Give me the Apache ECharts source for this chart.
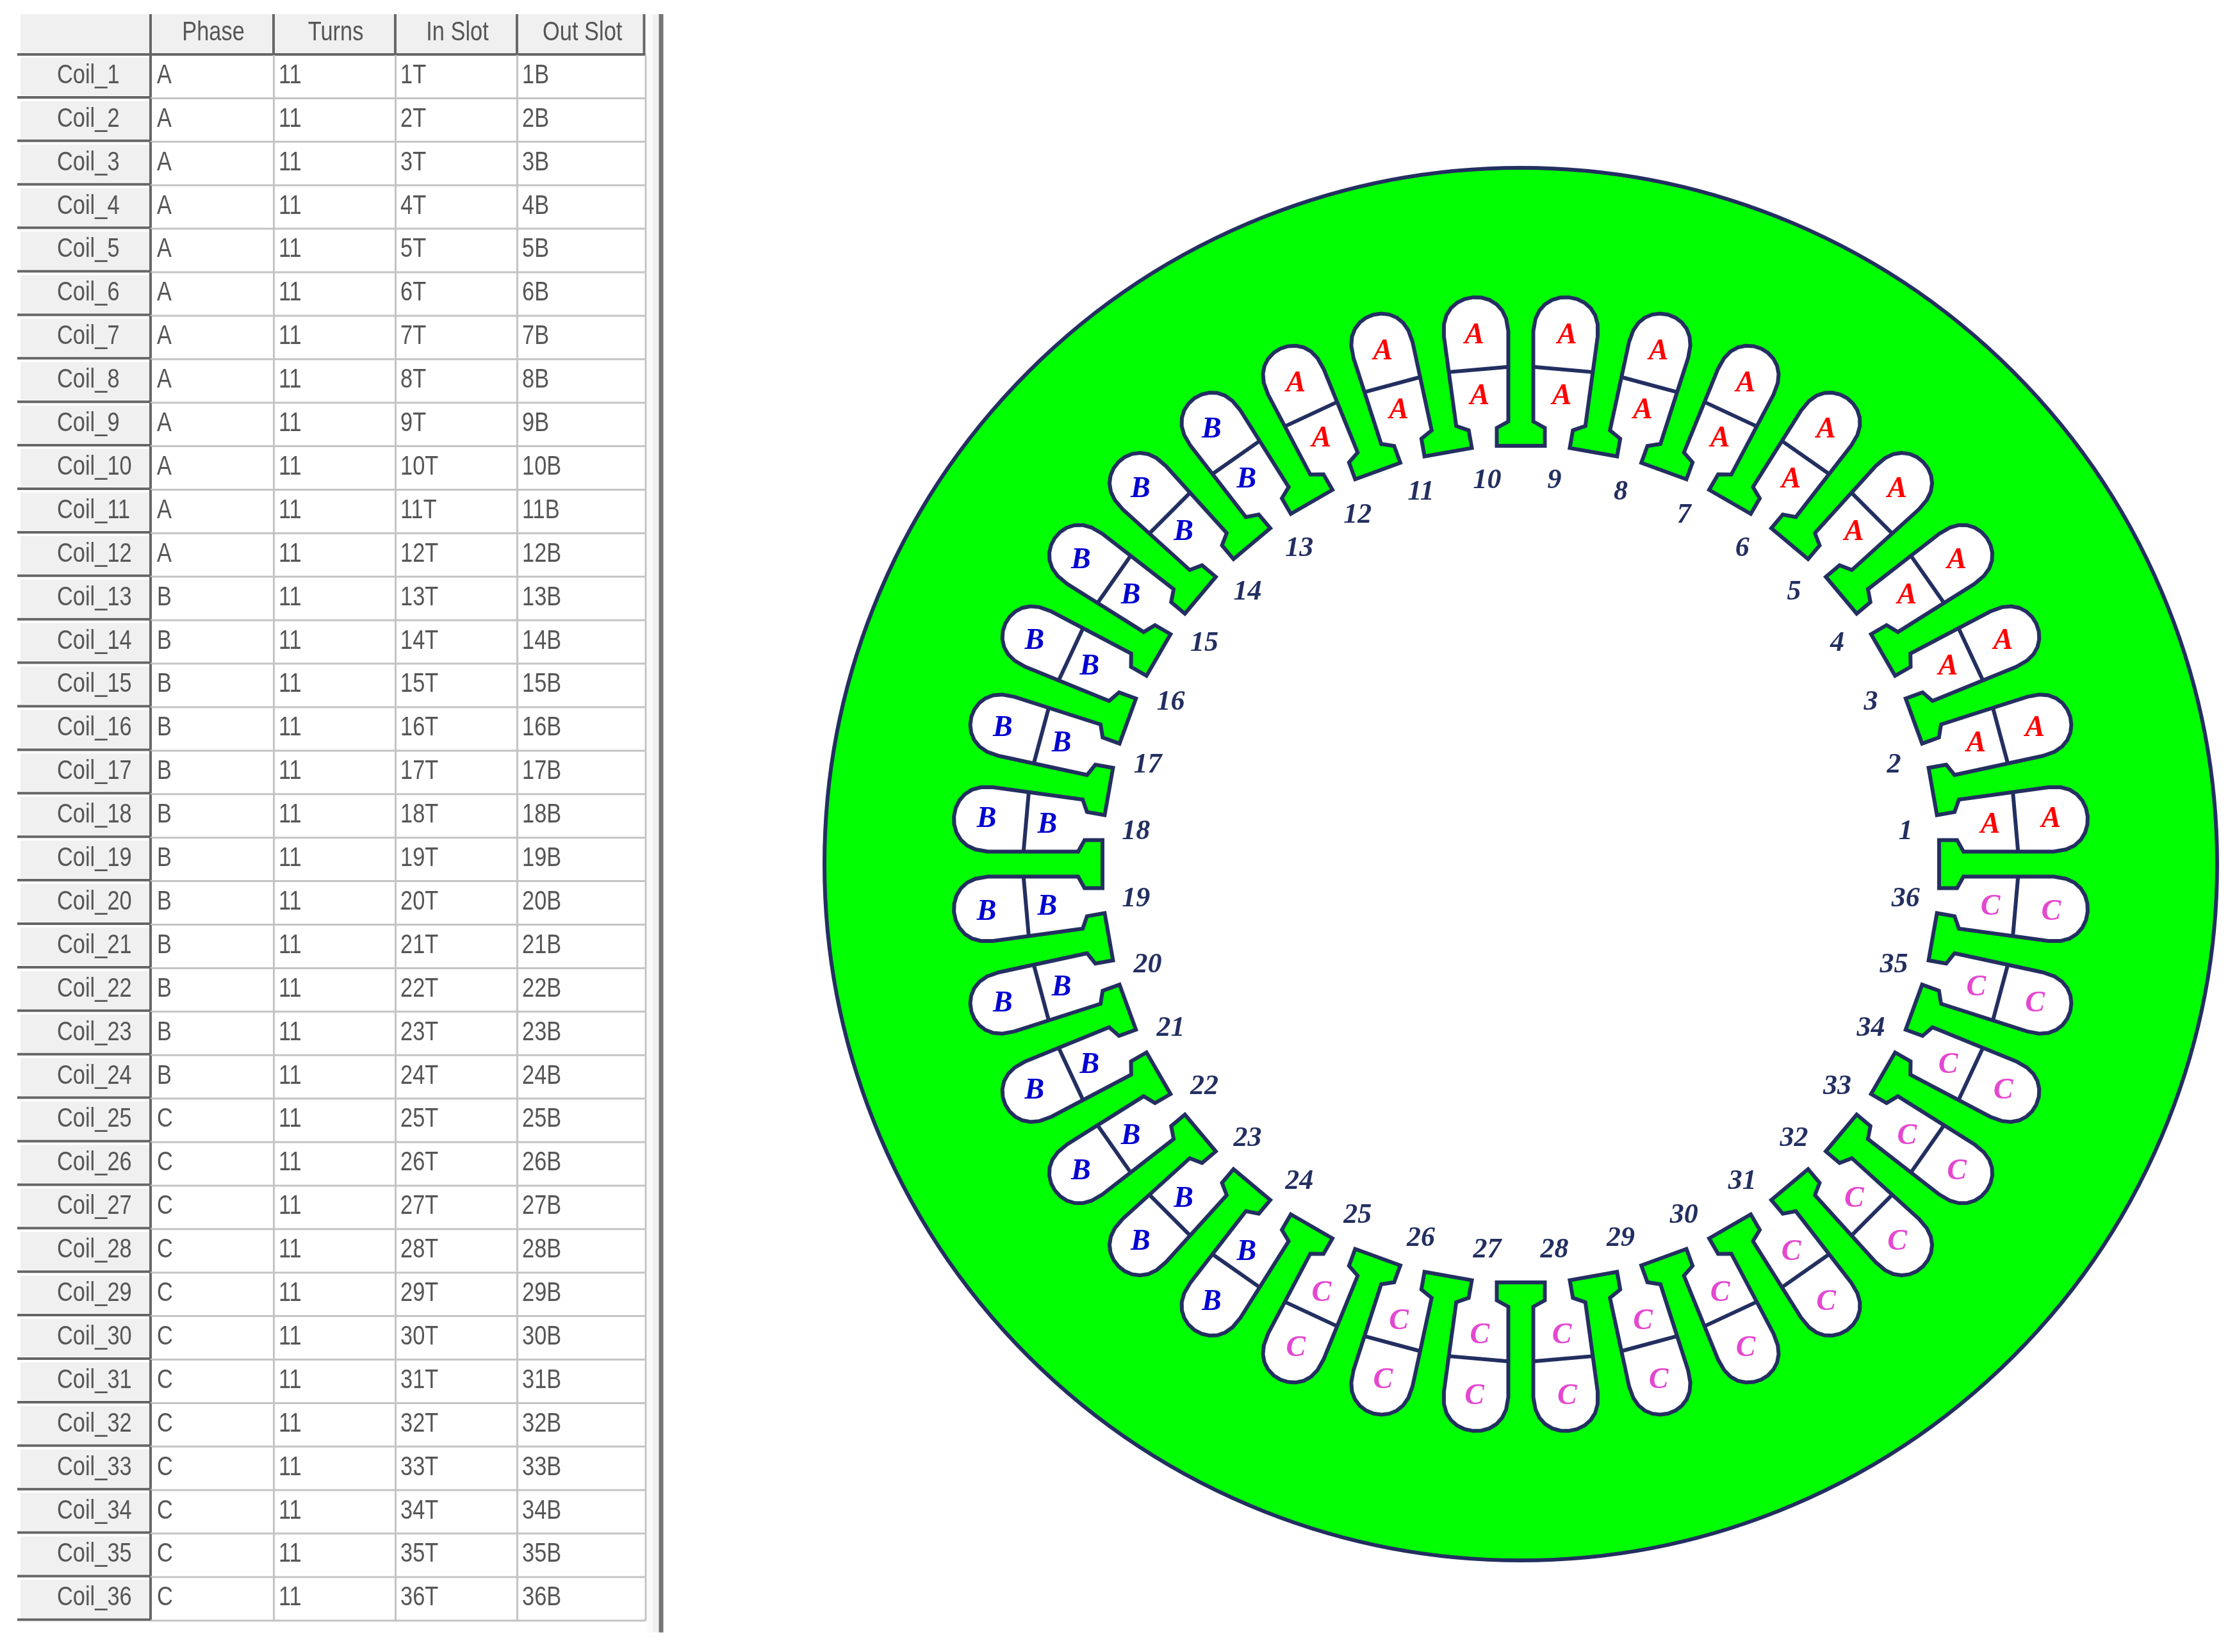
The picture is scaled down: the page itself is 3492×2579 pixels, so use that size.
<!DOCTYPE html>
<html>
<head>
<meta charset="utf-8">
<title>Coil table and stator slots</title>
<style>
  html, body { margin: 0; padding: 0; background: #fff; }
  #main { width: 3492px; height: 2579px; }
</style>
<script src="https://cdn.jsdelivr.net/npm/echarts@6/dist/echarts.min.js"></script>
</head>
<body>
<div id="main"></div>
<script>
// table contents
var columnNames = ['Phase', 'Turns', 'In Slot', 'Out Slot'];
var coilNames = ['Coil_1','Coil_2','Coil_3','Coil_4','Coil_5','Coil_6','Coil_7','Coil_8','Coil_9','Coil_10','Coil_11','Coil_12',
  'Coil_13','Coil_14','Coil_15','Coil_16','Coil_17','Coil_18','Coil_19','Coil_20','Coil_21','Coil_22','Coil_23','Coil_24',
  'Coil_25','Coil_26','Coil_27','Coil_28','Coil_29','Coil_30','Coil_31','Coil_32','Coil_33','Coil_34','Coil_35','Coil_36'];
var phases = ['A','A','A','A','A','A','A','A','A','A','A','A',
  'B','B','B','B','B','B','B','B','B','B','B','B',
  'C','C','C','C','C','C','C','C','C','C','C','C'];
var turns = [11,11,11,11,11,11,11,11,11,11,11,11,11,11,11,11,11,11,11,11,11,11,11,11,11,11,11,11,11,11,11,11,11,11,11,11];
var inSlots = ['1T','2T','3T','4T','5T','6T','7T','8T','9T','10T','11T','12T','13T','14T','15T','16T','17T','18T',
  '19T','20T','21T','22T','23T','24T','25T','26T','27T','28T','29T','30T','31T','32T','33T','34T','35T','36T'];
var outSlots = ['1B','2B','3B','4B','5B','6B','7B','8B','9B','10B','11B','12B','13B','14B','15B','16B','17B','18B',
  '19B','20B','21B','22B','23B','24B','25B','26B','27B','28B','29B','30B','31B','32B','33B','34B','35B','36B'];

// slot centre angles, degrees counter clockwise from the right
var slotAngles = [5,15,25,35,45,55,65,75,85,95,105,115,125,135,145,155,165,175,
  185,195,205,215,225,235,245,255,265,275,285,295,305,315,325,335,345,355];
var slotNumbers = [1,2,3,4,5,6,7,8,9,10,11,12,13,14,15,16,17,18,19,20,21,22,23,24,25,26,27,28,29,30,31,32,33,34,35,36];

// look
var phaseColors = { A: '#ff0000', B: '#0000d0', C: '#e448d0' };
var letterShiftX = { A: 0, B: -6, C: 0 };
var GREEN = '#00ff00';
var NAVY = '#232f60';
var BTN = '#f0f0f0';
var DARK = '#666666';
var LINE = '#c4c4c4';
var TXT = '#565656';
var OUTLINE = 6;
var COL_EDGES = [0, 205, 397, 587, 777, 977.5];   // table column edges on the hidden x axis

var R_OUT = 1087, R_TIP = 653, R_LIP = 681, R_NECK = 691, R_SHOULDER = 832, R_END = 888, R_DIVIDE = 775;
var TIP_HALF = 37.5, TOOTH_HALF = 19.5, TAPER = 0.038;
var R_LETTER_IN = 736, R_LETTER_OUT = 831, R_NUMBER = 603;

function cellText(row, col) {
  if (row === 0) return col === 0 ? '' : columnNames[col - 1];
  var i = row - 1;
  return [coilNames[i], phases[i], String(turns[i]), inSlots[i], outSlots[i]][col];
}

var rowNames = [''].concat(coilNames);
var cells = [];
rowNames.forEach(function (name, r) {
  for (var c = 0; c < 5; c++) cells.push([COL_EDGES[c], r, c]);
});

function rect(x, y, w, h, fill) {
  return { type: 'rect', shape: { x: x, y: y, width: w, height: h }, style: { fill: fill } };
}

function squeezed(x, y, s, align) {
  return {
    type: 'text', x: x, y: y, scaleX: 0.8, z2: 5,
    style: { text: s, font: '43px "Liberation Sans"', fill: TXT, align: align, textAlign: align,
      verticalAlign: 'middle', textVerticalAlign: 'middle' }
  };
}

function renderCell(params, api) {
  var row = api.value(1), col = api.value(2);
  var p0 = api.coord([COL_EDGES[col], row]);
  var p1 = api.coord([COL_EDGES[col + 1], row]);
  var h = api.size([0, 1])[1];
  var x0 = p0[0], x1 = p1[0], top = p0[1] - h / 2, bot = top + h;
  var s = cellText(row, col), kids = [];
  if (row === 0) {
    kids.push(rect(x0 + 2, top + 4, x1 - x0 - 3, h - 6, BTN));
    kids.push(rect(x0 - (col === 0 ? 3 : 0), bot - 3, x1 - x0 + (col === 0 ? 3 : 0), 4, DARK));
    kids.push(rect(x1 - (col === 4 ? 4 : 2), top + 4, 4, h - 4, DARK));
    if (s) kids.push(squeezed((x0 + x1) / 2 + 2, top + h / 2 - 1, s, 'center'));
  } else if (col === 0) {
    kids.push(rect(x0 + 2, top + 4, x1 - x0 - 3, h - 9, BTN));
    kids.push(rect(x0 - 3, bot - 4, x1 - x0 + 4, 4, DARK));
    kids.push(rect(x1 - 2, top, 4, h, DARK));
    kids.push(squeezed(x0 + 59, top + h / 2 - 2, s, 'left'));
  } else {
    kids.push(rect(x0, bot - 2, x1 - x0, 3, LINE));
    kids.push(rect(x1 - 1, top, 3, h, LINE));
    kids.push(squeezed(x0 + (col === 1 ? 10 : 8), top + h / 2 - 2, s, 'left'));
  }
  return { type: 'group', children: kids };
}

// scroll bar strip to the right of the table
function renderStrip(params, api) {
  var t = api.coord([COL_EDGES[5], 0]);
  var b = api.coord([COL_EDGES[5], rowNames.length - 1]);
  var h = api.size([0, 1])[1];
  var y0 = t[1] - h / 2 + 4, y1 = b[1] + h / 2 + 18;
  return { type: 'group', children: [
    rect(t[0] + 3, y0, 8, y1 - y0, '#fafafa'),
    rect(t[0] + 11, y0, 10, y1 - y0, BTN),
    rect(t[0] + 21, y0, 7, y1 - y0, '#747474')
  ] };
}

function deg(a) { return a * Math.PI / 180; }

// half width of the tooth at radius x; teeth on the axes are parallel sided
function toothHalf(x, toothAngle) {
  var taper = (Math.round(toothAngle) % 90 === 0) ? 0 : TAPER;
  return TOOTH_HALF + taper * (x - R_NECK);
}

// tooth frame point to slot frame, d = tooth angle minus slot angle
function inSlotFrame(x, y, d) {
  var c = Math.cos(deg(d)), s = Math.sin(deg(d));
  return [x * c - y * s, x * s + y * c];
}

// point of one slot, [u along axis, v across], as [radius, angle]
function toPolar(p, slotAngle) {
  return [Math.hypot(p[0], p[1]), slotAngle + Math.atan2(p[1], p[0]) * 180 / Math.PI];
}

function slotOutline(a) {
  var lo = a - 5, hi = a + 5, pts = [];
  function low(x, y) { return inSlotFrame(x, y, -5); }
  function up(x, y) { return inSlotFrame(x, y, 5); }
  pts.push(low(R_TIP, TIP_HALF), low(R_LIP, TIP_HALF), low(R_NECK, toothHalf(R_NECK, lo)));
  var P = low(R_SHOULDER, toothHalf(R_SHOULDER, lo));
  var Q = up(R_SHOULDER, -toothHalf(R_SHOULDER, hi));
  pts.push(P);
  var u0 = (P[0] + Q[0]) / 2, vm = (P[1] + Q[1]) / 2, W = (Q[1] - P[1]) / 2;
  for (var t = 15; t < 180; t += 15) {
    pts.push([u0 + (R_END - u0) * Math.pow(Math.sin(deg(t)), 0.8), vm - W * Math.cos(deg(t))]);
  }
  pts.push(Q, up(R_NECK, -toothHalf(R_NECK, hi)), up(R_LIP, -TIP_HALF), up(R_TIP, -TIP_HALF));
  return pts.map(function (p) { return toPolar(p, a); });
}

function renderStator(params, api) {
  var c = api.coord([0, 0]);
  var e = api.coord([R_OUT, 0]);
  var pts = [];
  slotAngles.forEach(function (a) {
    slotOutline(a).forEach(function (q) {
      var px = api.coord(q);
      pts.push([px[0], px[1]]);
    });
  });
  return { type: 'group', children: [
    { type: 'circle', shape: { cx: c[0], cy: c[1], r: Math.abs(e[0] - c[0]) },
      style: { fill: GREEN, stroke: NAVY, lineWidth: OUTLINE } },
    { type: 'polygon', shape: { points: pts }, style: { fill: '#ffffff', stroke: NAVY, lineWidth: OUTLINE, lineJoin: 'miter' } }
  ] };
}

function renderSlot(params, api) {
  var i = params.dataIndex, a = slotAngles[i], lo = a - 5, hi = a + 5;
  function edgeV(d, sign, toothAngle) {
    var p1 = inSlotFrame(R_NECK, sign * toothHalf(R_NECK, toothAngle), d);
    var p2 = inSlotFrame(R_SHOULDER, sign * toothHalf(R_SHOULDER, toothAngle), d);
    return p1[1] + (p2[1] - p1[1]) * (R_DIVIDE - p1[0]) / (p2[0] - p1[0]);
  }
  var d1 = api.coord(toPolar([R_DIVIDE, edgeV(-5, 1, lo)], a));
  var d2 = api.coord(toPolar([R_DIVIDE, edgeV(5, -1, hi)], a));
  var pIn = api.coord([R_LETTER_IN, a]);
  var pOut = api.coord([R_LETTER_OUT, a]);
  var pNum = api.coord([R_NUMBER, a]);
  var color = phaseColors[phases[i]];
  var sx = letterShiftX[phases[i]];
  function label(p, dx, dy, s, fill, size) {
    return { type: 'text', x: p[0] + dx, y: p[1] + dy, z2: 6,
      style: { text: s, font: 'italic bold ' + size + 'px "Liberation Serif"', fill: fill,
        align: 'center', textAlign: 'center', verticalAlign: 'middle', textVerticalAlign: 'middle' } };
  }
  return { type: 'group', children: [
    { type: 'line', shape: { x1: d1[0], y1: d1[1], x2: d2[0], y2: d2[1] }, style: { stroke: NAVY, lineWidth: OUTLINE } },
    label(pIn, sx, 3, phases[i], color, 46),
    label(pOut, sx, 3, phases[i], color, 46),
    label(pNum, 0, 2, String(slotNumbers[i]), NAVY, 44)
  ] };
}

var chart = echarts.init(document.getElementById('main'), null, { width: 3492, height: 2579 });
chart.setOption({
  animation: false,
  backgroundColor: '#ffffff',
  grid: { left: 30, top: 18.1, width: 977.5, height: 2512.3, containLabel: false },
  xAxis: { type: 'value', min: 0, max: 977.5, show: false },
  yAxis: { type: 'category', inverse: true, data: rowNames, show: false },
  polar: { center: [2374, 1349], radius: R_OUT },
  radiusAxis: { min: 0, max: R_OUT, show: false },
  angleAxis: { type: 'value', min: 0, max: 360, startAngle: 0, clockwise: false, show: false },
  series: [
    { type: 'custom', coordinateSystem: 'cartesian2d', clip: false, silent: true, renderItem: renderCell,
      encode: { x: 0, y: 1 }, data: cells },
    { type: 'custom', coordinateSystem: 'cartesian2d', clip: false, silent: true, renderItem: renderStrip,
      encode: { x: 0, y: 1 }, data: [[977.5, 0]] },
    { type: 'custom', coordinateSystem: 'polar', silent: true, renderItem: renderStator,
      encode: { radius: 0, angle: 1 }, data: [[R_OUT, 0]], z: 2 },
    { type: 'custom', coordinateSystem: 'polar', silent: true, renderItem: renderSlot,
      encode: { radius: 0, angle: 1 }, data: slotAngles.map(function (a) { return [R_NUMBER, a]; }), z: 3 }
  ]
});
</script>
</body>
</html>
